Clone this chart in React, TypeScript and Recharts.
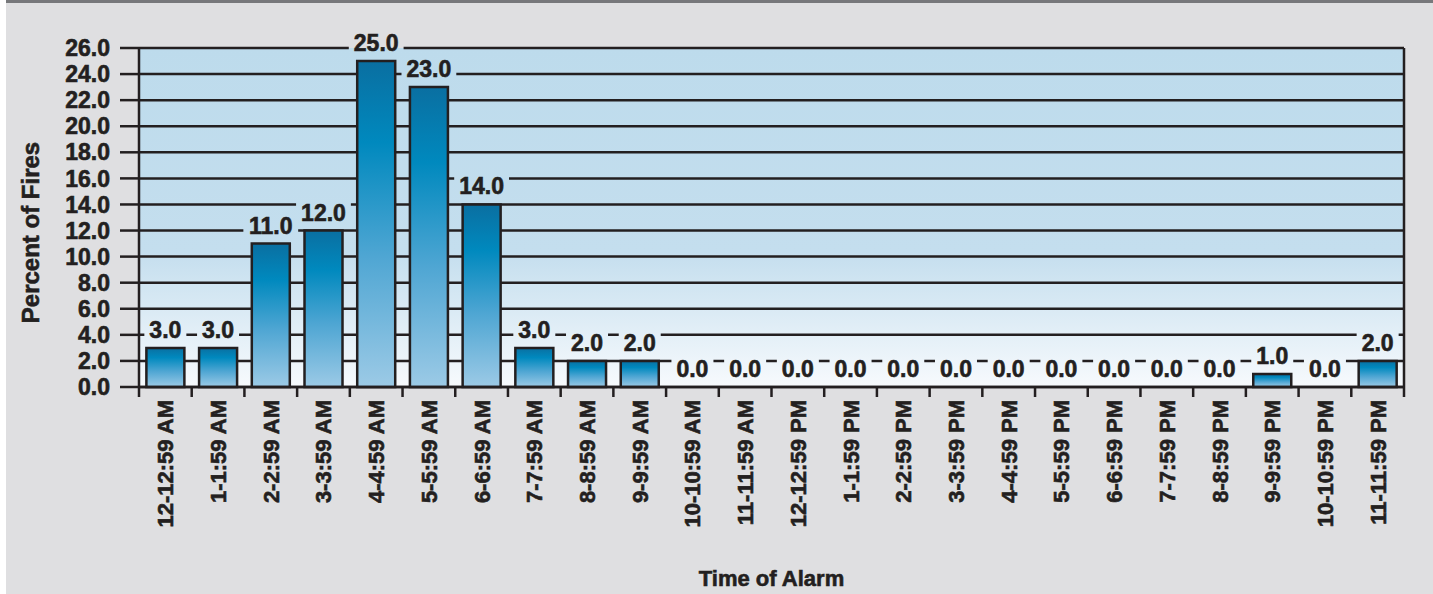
import React from 'react';
import { ComposedChart, Bar, Line, XAxis, YAxis, CartesianGrid, LabelList, Label } from 'recharts';

const hours = [
  '12-12:59 AM', '1-1:59 AM', '2-2:59 AM', '3-3:59 AM', '4-4:59 AM', '5-5:59 AM',
  '6-6:59 AM', '7-7:59 AM', '8-8:59 AM', '9-9:59 AM', '10-10:59 AM', '11-11:59 AM',
  '12-12:59 PM', '1-1:59 PM', '2-2:59 PM', '3-3:59 PM', '4-4:59 PM', '5-5:59 PM',
  '6-6:59 PM', '7-7:59 PM', '8-8:59 PM', '9-9:59 PM', '10-10:59 PM', '11-11:59 PM',
];
const percentFires = [3, 3, 11, 12, 25, 23, 14, 3, 2, 2, 0, 0, 0, 0, 0, 0, 0, 0, 0, 0, 0, 1, 0, 2];
const yTicks = [0, 2, 4, 6, 8, 10, 12, 14, 16, 18, 20, 22, 24, 26];
const yTitle = 'Percent of Fires';
const xTitle = 'Time of Alarm';

const data = hours.map((h, i) => ({ hour: h, pct: percentFires[i] }));

const FONT = "'Liberation Sans', Arial, Helvetica, sans-serif";
const INK = '#231f20';
const THICK = 0.6;

function XTick(props: any) {
  const { x, y, payload, index } = props;
  const off = payload && typeof payload.offset === 'number' ? payload.offset : 0;
  const ty = y + 13;
  return (
    <g>
      <line x1={x - off} x2={x - off} y1={y} y2={y + 10} stroke={INK} strokeWidth={2.5} />
      {index === hours.length - 1 && (
        <line x1={x + off} x2={x + off} y1={y} y2={y + 10} stroke={INK} strokeWidth={2.5} />
      )}
      <text
        x={x}
        y={ty}
        transform={`rotate(-90, ${x}, ${ty})`}
        textAnchor="end"
        dy={8}
        fill={INK}
        stroke={INK}
        strokeWidth={THICK}
        fontFamily={FONT}
        fontWeight="bold"
        fontSize={22}
      >
        {payload.value}
      </text>
    </g>
  );
}

function ValueLabel(props: any) {
  const { x, y, value } = props;
  const txt = Number(value).toFixed(1);
  const cx = x;
  const base = y - 10;
  const tw = (txt.length - 1) * 12.8 + 6.4;
  const pad = 5;
  return (
    <g>
      <rect x={cx - tw / 2 - pad} y={base - 20} width={tw + pad * 2} height={23} fill="url(#plotBgUser)" />
      <text
        x={cx}
        y={base}
        textAnchor="middle"
        fill={INK}
        stroke={INK}
        strokeWidth={THICK}
        fontFamily={FONT}
        fontWeight="bold"
        fontSize={23}
      >
        {txt}
      </text>
    </g>
  );
}

function YTitle(props: any) {
  const vb = props.viewBox || { x: 0, y: 0, width: 0, height: 0 };
  const cx = vb.x + 30;
  const cy = vb.y + vb.height / 2 + 15;
  return (
    <text
      x={cx}
      y={cy}
      transform={`rotate(-90, ${cx}, ${cy})`}
      textAnchor="middle"
      dominantBaseline="central"
      fill={INK}
      stroke={INK}
      strokeWidth={THICK}
      fontFamily={FONT}
      fontWeight="bold"
      fontSize={24}
    >
      {yTitle}
    </text>
  );
}

export default function App() {
  return (
    <div style={{ position: 'absolute', left: 0, top: 0, width: 1433, height: 594, background: '#ffffff', overflow: 'hidden' }}>
      <div
        style={{
          position: 'absolute',
          left: 6,
          top: 0,
          right: 0,
          bottom: 0,
          background: '#dfdfe1',
          borderTop: '3px solid #77787b',
        }}
      />
      <div style={{ position: 'absolute', left: 0, top: 0 }}>
        <ComposedChart
          width={1433}
          height={594}
          data={data}
          margin={{ top: 48, right: 0, left: 0, bottom: 0 }}
          barCategoryGap="14%"
        >
          <defs>
            <linearGradient id="plotBgUser" gradientUnits="userSpaceOnUse" x1="0" y1="0" x2="0" y2="387">
              <stop offset="0" stopColor="#dfdfe1" />
              <stop offset="0.124" stopColor="#dfdfe1" />
              <stop offset="0.124" stopColor="#bddbec" />
              <stop offset="0.65" stopColor="#c4deee" />
              <stop offset="1" stopColor="#f7fafd" />
            </linearGradient>
            <linearGradient id="barFill" x1="0" y1="0" x2="0" y2="1">
              <stop offset="0" stopColor="#0a6fa1" />
              <stop offset="0.25" stopColor="#0089be" />
              <stop offset="0.6" stopColor="#4fa6d3" />
              <stop offset="1" stopColor="#9ccae6" />
            </linearGradient>
          </defs>
          <CartesianGrid
            vertical={false}
            horizontal
            stroke={INK}
            strokeWidth={2.5}
            fill="url(#plotBgUser)"
            fillOpacity={1}
            yAxisId="left"
            xAxisId="cat"
          />
          <XAxis
            xAxisId="cat"
            dataKey="hour"
            type="category"
            height={207}
            interval={0}
            tickLine={false}
            tickSize={0}
            tickMargin={0}
            axisLine={{ stroke: INK, strokeWidth: 2.5 }}
            tick={<XTick />}
          >
            <Label
              value={xTitle}
              position="insideBottom"
              offset={8}
              fill={INK}
              stroke={INK}
              strokeWidth={THICK}
              fontFamily={FONT}
              fontWeight="bold"
              fontSize={22}
            />
          </XAxis>
          <YAxis
            yAxisId="left"
            width={139}
            domain={[0, 26]}
            ticks={yTicks}
            interval={0}
            tickSize={19}
            tickMargin={10}
            tickLine={{ stroke: INK, strokeWidth: 2.5 }}
            axisLine={{ stroke: INK, strokeWidth: 2.5 }}
            tickFormatter={(v: number) => v.toFixed(1)}
            tick={{ fill: INK, stroke: INK, strokeWidth: THICK, fontFamily: FONT, fontWeight: 'bold', fontSize: 23 }}
          >
            <Label content={<YTitle />} />
          </YAxis>
          <YAxis
            yAxisId="right"
            orientation="right"
            width={29}
            domain={[0, 26]}
            ticks={yTicks}
            interval={0}
            tickSize={5}
            tickLine={{ stroke: INK, strokeWidth: 2.5 }}
            axisLine={{ stroke: INK, strokeWidth: 2.5 }}
            tickFormatter={() => ''}
          />
          <Bar
            dataKey="pct"
            xAxisId="cat"
            yAxisId="left"
            fill="url(#barFill)"
            stroke={INK}
            strokeWidth={2.5}
            isAnimationActive={false}
          />
          <Line
            dataKey="pct"
            xAxisId="cat"
            yAxisId="left"
            stroke="none"
            dot={false}
            activeDot={false}
            legendType="none"
            isAnimationActive={false}
          >
            <LabelList dataKey="pct" content={<ValueLabel />} />
          </Line>
        </ComposedChart>
      </div>
    </div>
  );
}
